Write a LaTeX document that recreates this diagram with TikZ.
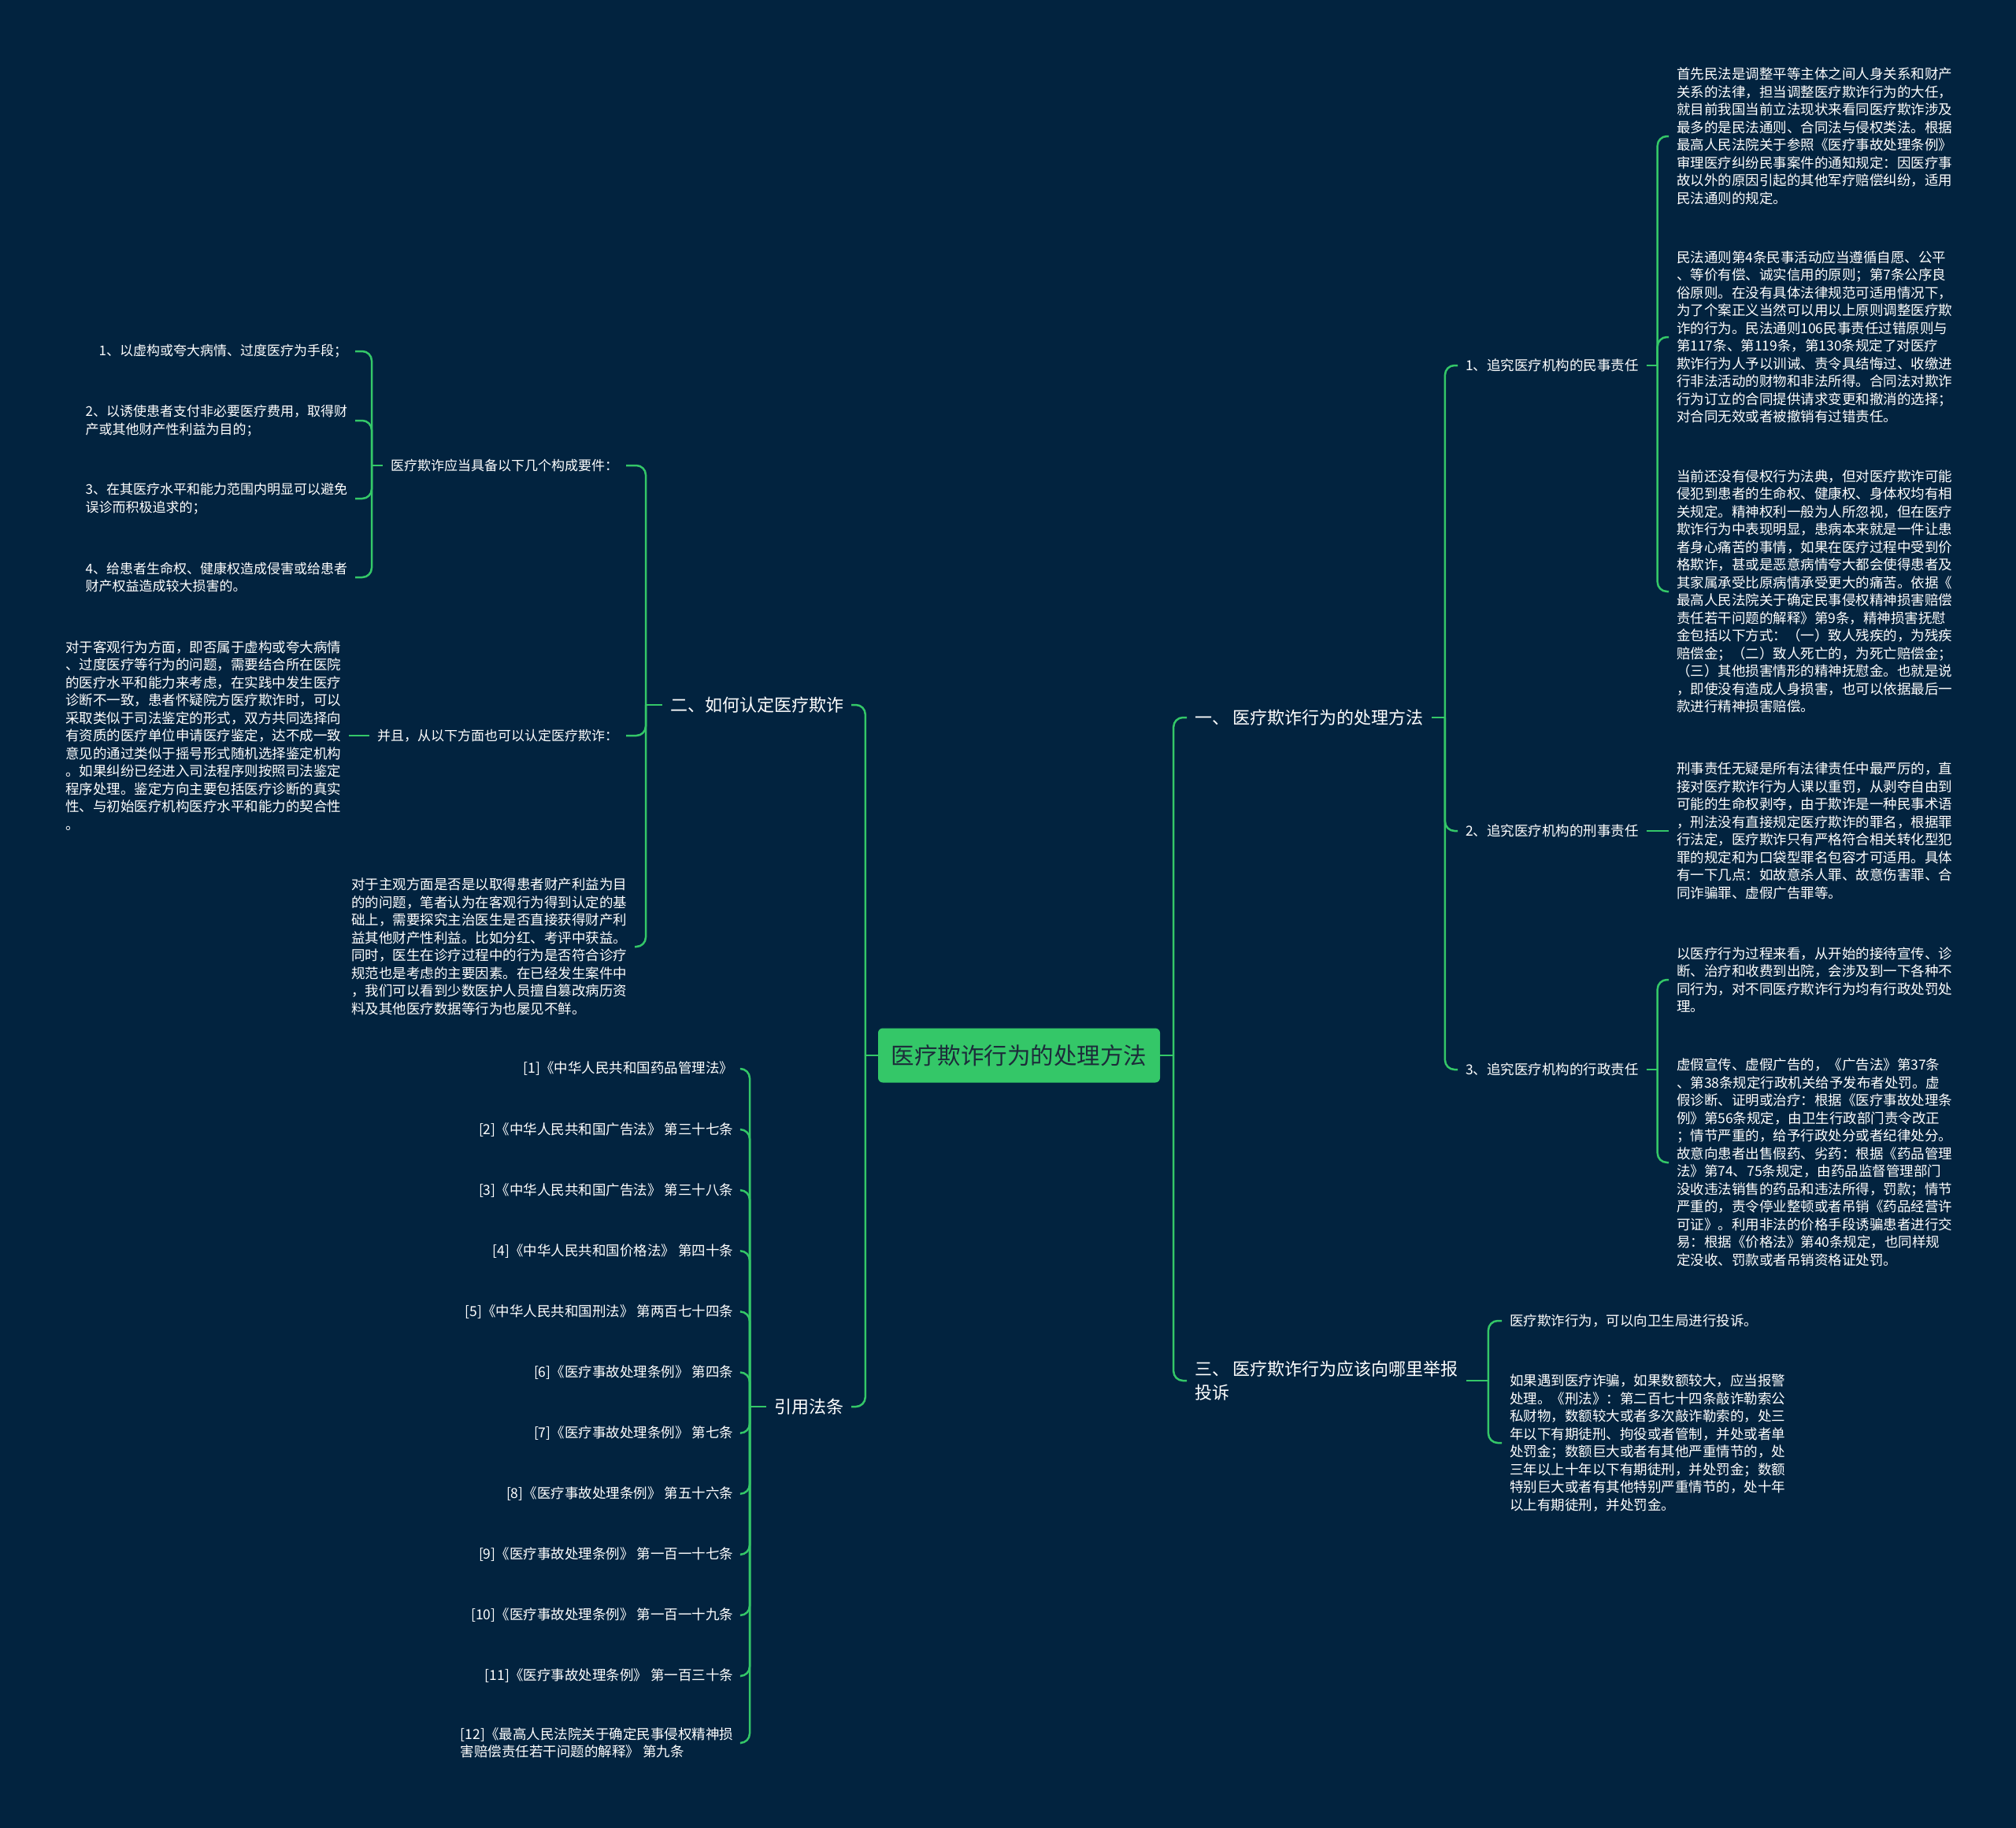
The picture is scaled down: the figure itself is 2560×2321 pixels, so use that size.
\documentclass[tikz,border=0pt]{standalone}
\usepackage{fontspec}
\newfontfamily\cjk{Noto Sans CJK SC}
\definecolor{MapNavy}{RGB}{2,35,63}
\definecolor{MapGreen}{RGB}{52,199,104}
\definecolor{RootText}{RGB}{28,44,58}
\usetikzlibrary{positioning,calc}
\tikzset{rootnode/.style={fill=MapGreen,rounded corners=6pt,text=RootText,font=\cjk\fontsize{29.5}{36}\selectfont,minimum width=358pt,minimum height=69pt,inner sep=0pt}}
\tikzset{topicnode/.style={text=white,font=\cjk\fontsize{22}{29.4}\selectfont,align=left,inner sep=0pt,outer xsep=10pt}}
\tikzset{subnode/.style={text=white,font=\cjk\fontsize{17}{22.5}\selectfont,align=left,inner sep=0pt,outer xsep=10pt}}
\tikzset{leafnode/.style={subnode,font=\cjk\fontsize{17.5}{22.5}\selectfont}}
\tikzset{linkedge/.style={draw=MapGreen,line width=2.5pt,rounded corners=12pt}}

\begin{document}
\begin{tikzpicture}[x=1pt,y=-1pt]
    \useasboundingbox (0,0) rectangle (2560,2321);
    \fill[MapNavy] (0,0) rectangle (2560,2321);

    \node[rootnode] (r) at (1294,1340) {医疗欺诈行为的处理方法};

    % right side
    \node[topicnode,anchor=west] (n1) at (1507,911) {一、 医疗欺诈行为的处理方法};
    \node[topicnode,anchor=west] (n3) at (1507,1753) {三、 医疗欺诈行为应该向哪里举报\\投诉};

    \node[leafnode,anchor=west] (m1) at (1851,464) {1、追究医疗机构的民事责任};
    \node[leafnode,anchor=west] (m2) at (1851,1055) {2、追究医疗机构的刑事责任};
    \node[leafnode,anchor=west] (m3) at (1851,1358) {3、追究医疗机构的行政责任};

    \node[leafnode,anchor=west] (p1) at (2119,173) {首先民法是调整平等主体之间人身关系和财产\\关系的法律，担当调整医疗欺诈行为的大任，\\就目前我国当前立法现状来看同医疗欺诈涉及\\最多的是民法通则、合同法与侵权类法。根据\\最高人民法院关于参照《医疗事故处理条例》\\审理医疗纠纷民事案件的通知规定：因医疗事\\故以外的原因引起的其他军疗赔偿纠纷，适用\\民法通则的规定。};
    \node[leafnode,anchor=west] (p2) at (2119,428) {民法通则第4条民事活动应当遵循自愿、公平\\、等价有偿、诚实信用的原则；第7条公序良\\俗原则。在没有具体法律规范可适用情况下，\\为了个案正义当然可以用以上原则调整医疗欺\\诈的行为。民法通则106民事责任过错原则与\\第117条、第119条，第130条规定了对医疗\\欺诈行为人予以训诫、责令具结悔过、收缴进\\行非法活动的财物和非法所得。合同法对欺诈\\行为订立的合同提供请求变更和撤消的选择；\\对合同无效或者被撤销有过错责任。};
    \node[leafnode,anchor=west] (p3) at (2119,751) {当前还没有侵权行为法典，但对医疗欺诈可能\\侵犯到患者的生命权、健康权、身体权均有相\\关规定。精神权利一般为人所忽视，但在医疗\\欺诈行为中表现明显，患病本来就是一件让患\\者身心痛苦的事情，如果在医疗过程中受到价\\格欺诈，甚或是恶意病情夸大都会使得患者及\\其家属承受比原病情承受更大的痛苦。依据《\\最高人民法院关于确定民事侵权精神损害赔偿\\责任若干问题的解释》第9条，精神损害抚慰\\金包括以下方式：（一）致人残疾的，为残疾\\赔偿金；（二）致人死亡的，为死亡赔偿金；\\（三）其他损害情形的精神抚慰金。也就是说\\，即使没有造成人身损害，也可以依据最后一\\款进行精神损害赔偿。};
    \node[leafnode,anchor=west] (p4) at (2119,1055) {刑事责任无疑是所有法律责任中最严厉的，直\\接对医疗欺诈行为人课以重罚，从剥夺自由到\\可能的生命权剥夺，由于欺诈是一种民事术语\\，刑法没有直接规定医疗欺诈的罪名，根据罪\\行法定，医疗欺诈只有严格符合相关转化型犯\\罪的规定和为口袋型罪名包容才可适用。具体\\有一下几点：如故意杀人罪、故意伤害罪、合\\同诈骗罪、虚假广告罪等。};
    \node[leafnode,anchor=west] (p5) at (2119,1244) {以医疗行为过程来看，从开始的接待宣传、诊\\断、治疗和收费到出院，会涉及到一下各种不\\同行为，对不同医疗欺诈行为均有行政处罚处\\理。};
    \node[leafnode,anchor=west] (p6) at (2119,1476) {虚假宣传、虚假广告的，《广告法》第37条\\、第38条规定行政机关给予发布者处罚。虚\\假诊断、证明或治疗：根据《医疗事故处理条\\例》第56条规定，由卫生行政部门责令改正\\；情节严重的，给予行政处分或者纪律处分。\\故意向患者出售假药、劣药：根据《药品管理\\法》第74、75条规定，由药品监督管理部门\\没收违法销售的药品和违法所得，罚款；情节\\严重的，责令停业整顿或者吊销《药品经营许\\可证》。利用非法的价格手段诱骗患者进行交\\易：根据《价格法》第40条规定，也同样规\\定没收、罚款或者吊销资格证处罚。};

    \node[leafnode,anchor=west] (q1) at (1907,1677) {医疗欺诈行为，可以向卫生局进行投诉。};
    \node[leafnode,anchor=west] (q2) at (1907,1832) {如果遇到医疗诈骗，如果数额较大，应当报警\\处理。《刑法》：第二百七十四条敲诈勒索公\\私财物，数额较大或者多次敲诈勒索的，处三\\年以下有期徒刑、拘役或者管制，并处或者单\\处罚金；数额巨大或者有其他严重情节的，处\\三年以上十年以下有期徒刑，并处罚金；数额\\特别巨大或者有其他特别严重情节的，处十年\\以上有期徒刑，并处罚金。};

    % left side
    \node[topicnode,anchor=east] (l2) at (1081,895) {二、如何认定医疗欺诈};
    \node[topicnode,anchor=east] (l4) at (1081,1786) {引用法条};

    \node[subnode,anchor=east] (a1) at (795,591) {医疗欺诈应当具备以下几个构成要件：};
    \node[subnode,anchor=east] (a2) at (795,934) {并且，从以下方面也可以认定医疗欺诈：};
    \node[leafnode,anchor=east] (a3) at (806,1202) {对于主观方面是否是以取得患者财产利益为目\\的的问题，笔者认为在客观行为得到认定的基\\础上，需要探究主治医生是否直接获得财产利\\益其他财产性利益。比如分红、考评中获益。\\同时，医生在诊疗过程中的行为是否符合诊疗\\规范也是考虑的主要因素。在已经发生案件中\\，我们可以看到少数医护人员擅自篡改病历资\\料及其他医疗数据等行为也屡见不鲜。};

    \node[subnode,anchor=east] (b1) at (451,446) {1、以虚构或夸大病情、过度医疗为手段；};
    \node[subnode,anchor=east] (b2) at (451,534) {2、以诱使患者支付非必要医疗费用，取得财\\产或其他财产性利益为目的；};
    \node[subnode,anchor=east] (b3) at (451,633) {3、在其医疗水平和能力范围内明显可以避免\\误诊而积极追求的；};
    \node[subnode,anchor=east] (b4) at (451,733) {4、给患者生命权、健康权造成侵害或给患者\\财产权益造成较大损害的。};

    \node[leafnode,anchor=east] (c1) at (443,934) {对于客观行为方面，即否属于虚构或夸大病情\\、过度医疗等行为的问题，需要结合所在医院\\的医疗水平和能力来考虑，在实践中发生医疗\\诊断不一致，患者怀疑院方医疗欺诈时，可以\\采取类似于司法鉴定的形式，双方共同选择向\\有资质的医疗单位申请医疗鉴定，达不成一致\\意见的通过类似于摇号形式随机选择鉴定机构\\。如果纠纷已经进入司法程序则按照司法鉴定\\程序处理。鉴定方向主要包括医疗诊断的真实\\性、与初始医疗机构医疗水平和能力的契合性\\。};

    \foreach \k/\txt [evaluate=\k as \ypos using 1357+(\k-1)*77.1] in {
        1/{[1]《中华人民共和国药品管理法》},
        2/{[2]《中华人民共和国广告法》 第三十七条},
        3/{[3]《中华人民共和国广告法》 第三十八条},
        4/{[4]《中华人民共和国价格法》 第四十条},
        5/{[5]《中华人民共和国刑法》 第两百七十四条},
        6/{[6]《医疗事故处理条例》 第四条},
        7/{[7]《医疗事故处理条例》 第七条},
        8/{[8]《医疗事故处理条例》 第五十六条},
        9/{[9]《医疗事故处理条例》 第一百一十七条},
        10/{[10]《医疗事故处理条例》 第一百一十九条},
        11/{[11]《医疗事故处理条例》 第一百三十条}}
        \node[leafnode,anchor=east] (law\k) at (941,\ypos) {\txt};
    \node[leafnode,anchor=east] (law12) at (941,2213) {[12]《最高人民法院关于确定民事侵权精神损\\害赔偿责任若干问题的解释》 第九条};

    % connectors
    \draw[linkedge] (r.east) -- ++(17,0) coordinate (rj);
    \foreach \c in {n1,n3} \draw[linkedge] (rj) |- (\c.west);
    \draw[linkedge] (n1.east) -- ++(17,0) coordinate (n1j);
    \foreach \c in {m1,m2,m3} \draw[linkedge] (n1j) |- (\c.west);
    \draw[linkedge] (m1.east) -- ++(14,0) coordinate (m1j);
    \foreach \c in {p1,p2,p3} \draw[linkedge] (m1j) |- (\c.west);
    \draw[linkedge] (m2.east) -- (p4.west);
    \draw[linkedge] (m3.east) -- ++(14,0) coordinate (m3j);
    \foreach \c in {p5,p6} \draw[linkedge] (m3j) |- (\c.west);
    \draw[linkedge] (n3.east) -- ++(28,0) coordinate (n3j);
    \foreach \c in {q1,q2} \draw[linkedge] (n3j) |- (\c.west);

    \draw[linkedge] (r.west) -- ++(-16,0) coordinate (rl);
    \foreach \c in {l2,l4} \draw[linkedge] (rl) |- (\c.east);
    \draw[linkedge] (l2.west) -- ++(-21,0) coordinate (l2j);
    \foreach \c in {a1,a2,a3} \draw[linkedge] (l2j) |- (\c.east);
    \draw[linkedge] (a1.west) -- ++(-14,0) coordinate (a1j);
    \foreach \c in {b1,b2,b3,b4} \draw[linkedge] (a1j) |- (\c.east);
    \draw[linkedge] (a2.west) -- (c1.east);
    \draw[linkedge] (l4.west) -- ++(-21,0) coordinate (l4j);
    \foreach \k in {1,...,12} \draw[linkedge] (l4j) |- (law\k.east);
\end{tikzpicture}
\end{document}
